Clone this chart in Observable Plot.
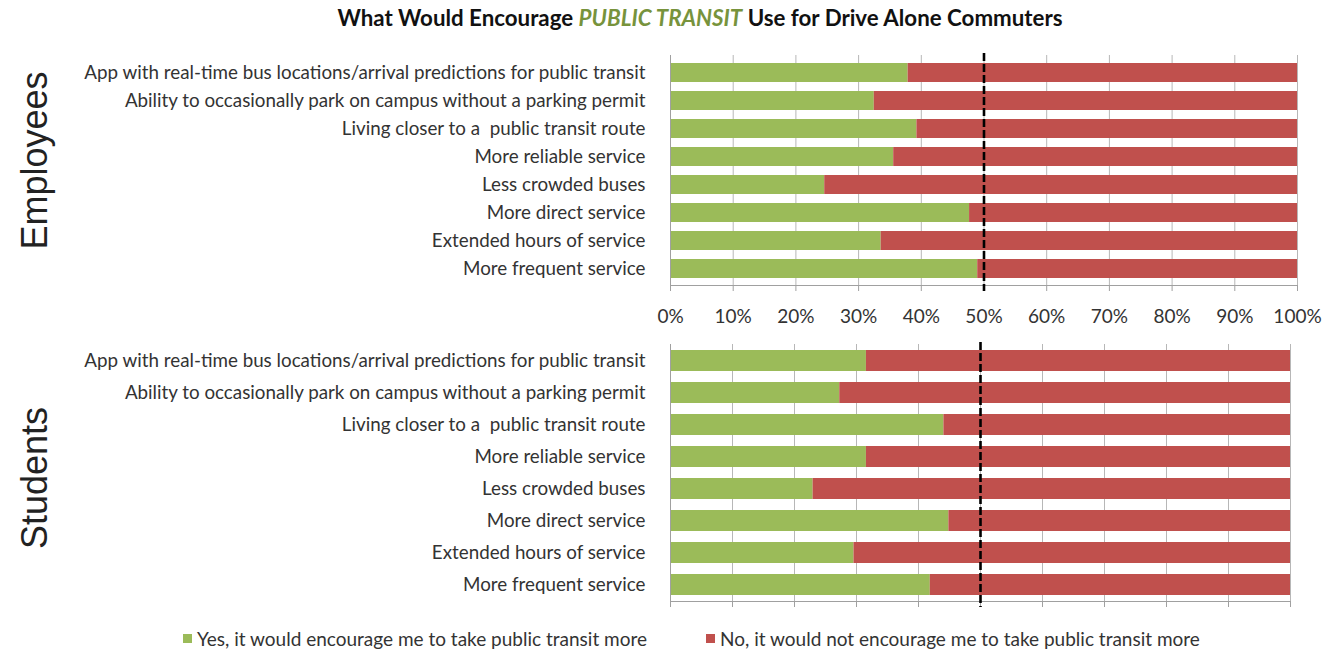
<!DOCTYPE html>
<html>
<head>
<meta charset="utf-8">
<script src="https://cdn.jsdelivr.net/npm/d3@7"></script>
<script src="https://cdn.jsdelivr.net/npm/@observablehq/plot@0.6"></script>
<style>
  html, body { margin: 0; padding: 0; background: #fff; width: 1328px; height: 653px; overflow: hidden; font-family: Lato, "Open Sans", sans-serif; }
  #title { height: 40px; box-sizing: border-box; padding-left: 72px; padding-top: 4px; text-align: center; font-weight: bold; font-size: 22.3px; color: #111; white-space: pre; }
  #title .hl { color: #77933C; font-style: italic; }
  svg text { white-space: pre; }
  #legend { height: 38px; position: relative; font-size: 19px; color: #333; }
  .item { position: absolute; top: 12px; display: flex; align-items: center; white-space: nowrap; }
  .sw { width: 9px; height: 9px; margin-right: 5px; display: inline-block; }
</style>
</head>
<body>
<div id="title">What Would Encourage <span class="hl">PUBLIC TRANSIT</span> Use for Drive Alone Commuters</div>
<div id="chart1"></div>
<div id="chart2"></div>
<div id="legend"></div>
<script>
const categories = [
  "App with real-time bus locations/arrival predictions for public transit",
  "Ability to occasionally park on campus without a parking permit",
  "Living closer to a  public transit route",
  "More reliable service",
  "Less crowded buses",
  "More direct service",
  "Extended hours of service",
  "More frequent service"
];
const responses = [
  "Yes, it would encourage me to take public transit more",
  "No, it would not encourage me to take public transit more"
];
const colors = ["#9BBB59", "#C0504D"];
const employeesYes = [37.9, 32.5, 39.3, 35.6, 24.6, 47.7, 33.6, 49.0];
const employeesNo  = [62.1, 67.5, 60.7, 64.4, 75.4, 52.3, 66.4, 51.0];
const studentsYes  = [31.6, 27.3, 44.1, 31.6, 23.0, 44.9, 29.6, 41.9];
const studentsNo   = [68.4, 72.7, 55.9, 68.4, 77.0, 55.1, 70.4, 58.1];
const xTicks = [0, 10, 20, 30, 40, 50, 60, 70, 80, 90, 100];
const tickLabels = ["0%", "10%", "20%", "30%", "40%", "50%", "60%", "70%", "80%", "90%", "100%"];
const groups = ["Employees", "Students"];
const midLine = [50];

function rows(yes, no) {
  const out = [];
  categories.forEach((c, i) => out.push({category: c, response: responses[0], value: yes[i]}));
  categories.forEach((c, i) => out.push({category: c, response: responses[1], value: no[i]}));
  return out;
}

function panel({yes, no, group, showLabels, height, marginTop, marginBottom, marginRight, paddingInner, paddingOuter, labelDy}) {
  return Plot.plot({
    width: 1328,
    height,
    marginLeft: 670,
    marginRight,
    marginTop,
    marginBottom,
    style: {fontFamily: "Lato, 'Open Sans', sans-serif", color: "#333", background: "transparent"},
    x: {domain: [0, 100]},
    y: {domain: categories, paddingInner, paddingOuter},
    color: {domain: responses, range: colors},
    marks: [
      Plot.gridX(xTicks.slice(1), {stroke: "#b7b7b7", strokeOpacity: 1, strokeWidth: 1}),
      Plot.barX(rows(yes, no), Plot.stackX({x: "value", y: "category", fill: "response"})),
      Plot.frame({anchor: "bottom", stroke: "#a0a0a0"}),
      Plot.frame({anchor: "left", stroke: "#a0a0a0"}),
      Plot.axisX(xTicks, {
        tickSize: 6, tickPadding: 18, stroke: "#a0a0a0", fontSize: 19, fill: "#333",
        tickFormat: showLabels ? (d => tickLabels[xTicks.indexOf(d)]) : (() => ""),
        label: null
      }),
      Plot.axisY({tickSize: 0, tickPadding: 25, fontSize: 18.8, fill: "#333", label: null}),
      Plot.ruleX(midLine, {stroke: "#000", strokeWidth: 2.6, strokeDasharray: "8,3", insetTop: -2, insetBottom: -6}),
      Plot.text([group], {frameAnchor: "left", textAnchor: "middle", dx: -635, dy: labelDy, rotate: -90, fontSize: 36, fill: "#222", fontFamily: "'Liberation Sans', Arial, sans-serif"})
    ]
  });
}

document.getElementById("chart1").append(panel({
  yes: employeesYes, no: employeesNo, group: groups[0], showLabels: true,
  height: 290, marginTop: 15, marginBottom: 45, marginRight: 31, paddingInner: 0.33, paddingOuter: 0.2, labelDy: -10
}));
document.getElementById("chart2").append(panel({
  yes: studentsYes, no: studentsNo, group: groups[1], showLabels: false,
  height: 285, marginTop: 14, marginBottom: 14, marginRight: 38, paddingInner: 0.34, paddingOuter: 0.15, labelDy: 5
}));

const legend = document.getElementById("legend");
const lx = [183, 706];
responses.forEach((r, i) => {
  const it = document.createElement("div");
  it.className = "item";
  it.style.left = lx[i] + "px";
  const sw = document.createElement("span");
  sw.className = "sw";
  sw.style.background = colors[i];
  it.append(sw, document.createTextNode(r));
  legend.append(it);
});
</script>
</body>
</html>
